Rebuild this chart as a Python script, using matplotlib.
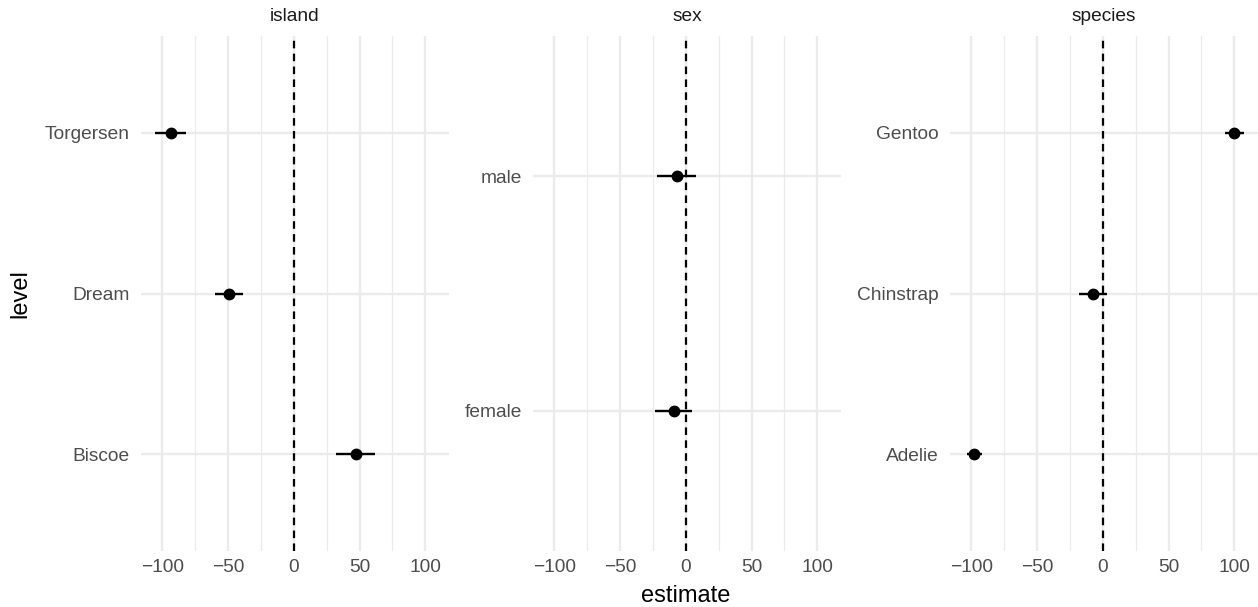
import matplotlib
matplotlib.use("Agg")
import matplotlib.pyplot as plt
from matplotlib.ticker import MultipleLocator

plt.rcParams["font.family"] = ["Liberation Sans", "DejaVu Sans"]

# facet data (estimate with lower / upper bounds), levels from bottom to top
facets = ["island", "sex", "species"]

island_levels = ["Biscoe", "Dream", "Torgersen"]
island_est = [47.1, -49.7, -93.8]
island_lo = [32.4, -60.0, -105.7]
island_hi = [62.0, -38.5, -82.0]

sex_levels = ["female", "male"]
sex_est = [-9.4, -7.0]
sex_lo = [-23.6, -22.0]
sex_hi = [4.8, 8.0]

species_levels = ["Adelie", "Chinstrap", "Gentoo"]
species_est = [-97.9, -7.8, 99.8]
species_lo = [-103.4, -18.3, 92.8]
species_hi = [-92.0, 2.8, 107.4]

panels = [
    (island_levels, island_est, island_lo, island_hi),
    (sex_levels, sex_est, sex_lo, sex_hi),
    (species_levels, species_est, species_lo, species_hi),
]

W, H = 1258, 607
fig = plt.figure(figsize=(W / 100, H / 100), dpi=100)

# x scale shared across facets, 5% expansion like ggplot
all_lo = min(min(p[2]) for p in panels)
all_hi = max(max(p[3]) for p in panels)
pad = 0.05 * (all_hi - all_lo)
xlim = (all_lo - pad, all_hi + pad)

lefts = [141, 533, 950]
pw = 308
top, bottom = 36, 551

grid_col = "#EBEBEB"
txt_col = "#4D4D4D"

for k, (levels, est, lo, hi) in enumerate(panels):
    ax = fig.add_axes([lefts[k] / W, 1 - bottom / H, pw / W, (bottom - top) / H])
    y = list(range(1, len(levels) + 1))
    ax.set_xlim(*xlim)
    ax.set_ylim(0.4, len(levels) + 0.6)
    ax.xaxis.set_major_locator(MultipleLocator(50))
    ax.xaxis.set_minor_locator(MultipleLocator(25))
    ax.set_yticks(y)
    ax.set_yticklabels(levels)
    ax.grid(True, which="major", color=grid_col, lw=1.7, zorder=0)
    ax.grid(True, which="minor", axis="x", color=grid_col, lw=0.9, zorder=0)
    ax.set_axisbelow(True)
    for s in ax.spines.values():
        s.set_visible(False)
    ax.tick_params(which="both", length=0, labelsize=13.8, labelcolor=txt_col)
    ax.tick_params(axis="y", pad=8)
    ax.tick_params(axis="x", pad=6)
    ax.set_xticklabels([f"{int(t)}".replace("-", "\u2212") for t in ax.get_xticks()])

    ax.axvline(0, color="black", lw=1.6, dashes=(3.4, 2.4), zorder=2)
    ax.hlines(y, lo, hi, color="black", lw=1.7, zorder=3)
    ax.plot(est, y, "o", color="black", ms=7.5, zorder=4)
    ax.set_title(facets[k], fontsize=13.8, color="#1A1A1A", pad=11)

fig.text(686 / W, 1 - 596 / H, "estimate", ha="center", va="center", fontsize=17)
fig.text(20 / W, 1 - 294 / H, "level", ha="center", va="center", rotation=90, fontsize=17)

fig.savefig("out.png", dpi=100)
